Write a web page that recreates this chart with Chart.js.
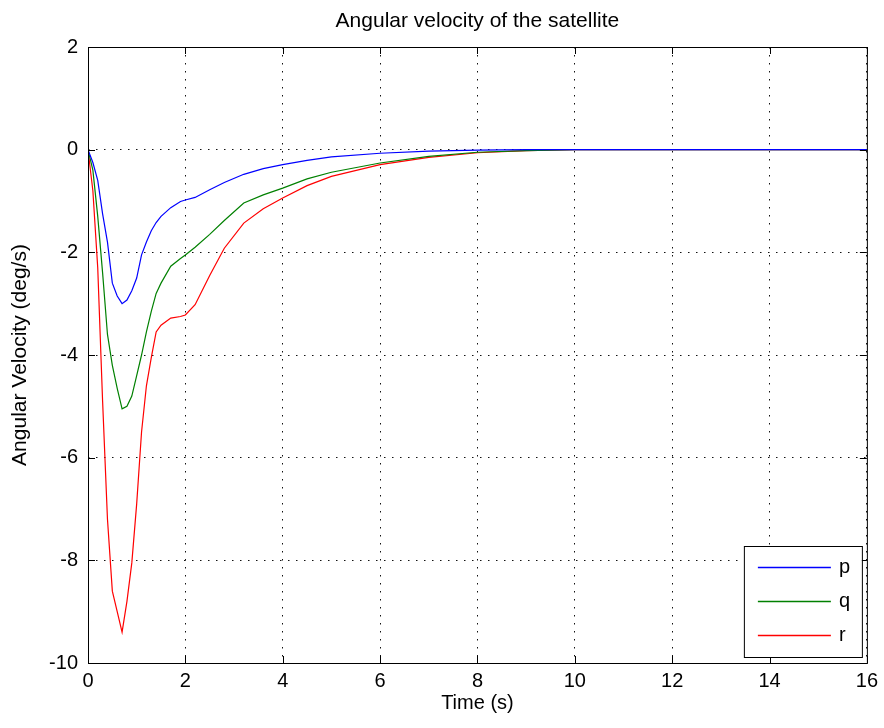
<!DOCTYPE html>
<html>
<head>
<meta charset="utf-8">
<title>Angular velocity of the satellite</title>
<script src="https://cdn.jsdelivr.net/npm/chart.js@4.4.0/dist/chart.umd.min.js"></script>
<style>
  html, body { margin: 0; padding: 0; background: #fff; }
</style>
</head>
<body>
<canvas id="omegaChart" width="884" height="728"></canvas>
<script>
// sample times (s) and body rates (deg/s)
const timeSec = [0, 0.1, 0.2, 0.3, 0.4, 0.5, 0.6, 0.7, 0.8, 0.9, 1.0, 1.1, 1.2, 1.3, 1.4, 1.5, 1.7, 1.9, 2.0,
                 2.2, 2.5, 2.8, 3.2, 3.6, 4.0, 4.5, 5.0, 6.0, 7.0, 8.0, 9.0, 10, 12, 14, 16];
const pRate = [0, -0.25, -0.6, -1.25, -1.8, -2.6, -2.85, -3.0, -2.93, -2.75, -2.5, -2.05, -1.8, -1.58, -1.42, -1.3, -1.13, -1.01, -0.98,
               -0.93, -0.78, -0.64, -0.48, -0.37, -0.29, -0.21, -0.14, -0.07, -0.03, -0.01, 0, 0, 0, 0, 0];
const qRate = [0, -0.4, -1.3, -2.4, -3.6, -4.2, -4.65, -5.05, -5.0, -4.8, -4.4, -4.0, -3.55, -3.15, -2.8, -2.6, -2.27, -2.12, -2.05,
               -1.9, -1.65, -1.38, -1.04, -0.88, -0.75, -0.57, -0.44, -0.26, -0.13, -0.05, -0.02, 0, 0, 0, 0];
const rRate = [0, -0.8, -2.3, -4.9, -7.2, -8.6, -9.0, -9.4, -8.8, -8.05, -6.9, -5.5, -4.6, -4.05, -3.55, -3.42, -3.28, -3.25, -3.22,
               -3.02, -2.45, -1.92, -1.43, -1.15, -0.94, -0.7, -0.52, -0.29, -0.15, -0.06, -0.02, 0, 0, 0, 0];

const seriesNames = ['p', 'q', 'r'];
const seriesColors = ['#0000ff', '#008000', '#ff0000'];
const xTicks = [0, 2, 4, 6, 8, 10, 12, 14, 16];
const yTicks = [-10, -8, -6, -4, -2, 0, 2];

const FONT = 'Arial, "Liberation Sans", Helvetica, sans-serif';
Chart.defaults.font.family = FONT;
Chart.defaults.color = '#000';

function toPoints(values) {
    return timeSec.map((t, i) => ({ x: t, y: values[i] }));
}

// box around the axes, inward tick marks, title and legend
const axesFrame = {
    id: 'axesFrame',
    afterDraw(chart) {
        const { ctx, chartArea: a, scales } = chart;
        const tickLen = 7;
        ctx.save();
        ctx.setLineDash([]);
        ctx.strokeStyle = '#000';
        ctx.lineWidth = 1;
        ctx.strokeRect(a.left + 0.5, a.top + 0.5, a.right - a.left, a.bottom - a.top);

        ctx.beginPath();
        xTicks.forEach(v => {
            const x = Math.round(scales.x.getPixelForValue(v)) + 0.5;
            ctx.moveTo(x, a.bottom); ctx.lineTo(x, a.bottom - tickLen);
            ctx.moveTo(x, a.top); ctx.lineTo(x, a.top + tickLen);
        });
        yTicks.forEach(v => {
            const y = Math.round(scales.y.getPixelForValue(v)) + 0.5;
            ctx.moveTo(a.left, y); ctx.lineTo(a.left + tickLen, y);
            ctx.moveTo(a.right, y); ctx.lineTo(a.right - tickLen, y);
        });
        ctx.stroke();

        // title, centred over the axes
        ctx.fillStyle = '#000';
        ctx.font = '21px ' + FONT;
        ctx.textAlign = 'center';
        ctx.textBaseline = 'middle';
        ctx.fillText('Angular velocity of the satellite', (a.left + a.right) / 2, 21);

        // legend in the lower right corner
        const boxW = 118, boxH = 111;
        const bx = a.right - 5 - boxW, by = a.bottom - 6 - boxH;
        ctx.fillStyle = '#fff';
        ctx.fillRect(bx, by, boxW, boxH);
        ctx.strokeStyle = '#000';
        ctx.strokeRect(bx + 0.5, by + 0.5, boxW, boxH);
        ctx.font = '20px ' + FONT;
        ctx.textAlign = 'left';
        seriesNames.forEach((name, i) => {
            const y = Math.round(by + 21 + i * 34) + 0.5;
            ctx.strokeStyle = seriesColors[i];
            ctx.lineWidth = 1.5;
            ctx.beginPath();
            ctx.moveTo(bx + 14, y);
            ctx.lineTo(bx + 87, y);
            ctx.stroke();
            ctx.fillStyle = '#000';
            ctx.fillText(name, bx + 95, y);
        });
        ctx.restore();
    }
};

new Chart(document.getElementById('omegaChart'), {
    type: 'line',
    data: {
        datasets: [pRate, qRate, rRate].map((vals, i) => ({
            label: seriesNames[i],
            data: toPoints(vals),
            borderColor: seriesColors[i],
            borderWidth: 1.2,
            pointRadius: 0,
            tension: 0,
            fill: false
        }))
    },
    options: {
        responsive: false,
        animation: false,
        layout: { padding: { top: 47, right: 17, left: 0, bottom: 0 } },
        plugins: {
            legend: { display: false },
            tooltip: { enabled: false },
            title: { display: false }
        },
        scales: {
            x: {
                type: 'linear',
                min: 0,
                max: 16,
                afterFit: s => { s.height = 65; },
                afterBuildTicks: s => { s.ticks = xTicks.map(v => ({ value: v })); },
                ticks: { padding: 6, font: { size: 20 }, color: '#000' },
                grid: { color: '#111', lineWidth: 1, drawTicks: false },
                border: { display: false, dash: [1.5, 6.5] },
                title: { display: true, text: 'Time (s)', font: { size: 20 }, padding: { top: 0, bottom: 13 } }
            },
            y: {
                type: 'linear',
                min: -10,
                max: 2,
                afterFit: s => { s.width = 88; },
                afterBuildTicks: s => { s.ticks = yTicks.map(v => ({ value: v })); },
                ticks: { padding: 10, font: { size: 20 }, color: '#000' },
                grid: { color: '#111', lineWidth: 1, drawTicks: false },
                border: { display: false, dash: [1.5, 6.5] },
                title: { display: true, text: 'Angular Velocity (deg/s)', font: { size: 21 }, padding: { top: 8, bottom: 0 } }
            }
        }
    },
    plugins: [axesFrame]
});
</script>
</body>
</html>
